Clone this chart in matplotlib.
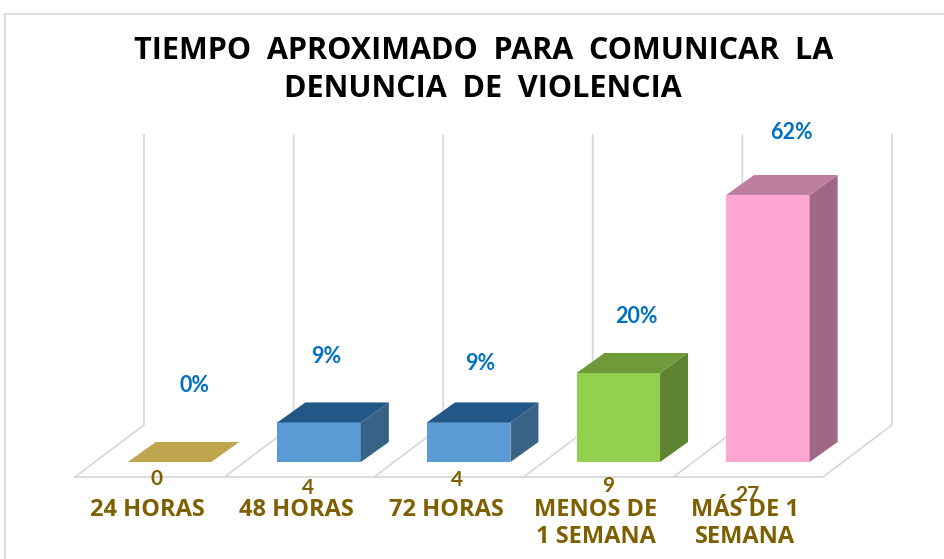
"""Faux-3D column chart: tiempo para comunicar la denuncia."""

import matplotlib

matplotlib.use("Agg")
import matplotlib.pyplot as plt
from matplotlib.patches import Polygon

plt.rcParams["font.family"] = ["Open Sans", "DejaVu Sans"]

TITLE = "TIEMPO  APROXIMADO  PARA  COMUNICAR  LA\nDENUNCIA  DE  VIOLENCIA"
CATEGORIES = ["24 HORAS", "48 HORAS", "72 HORAS", "MENOS DE\n1 SEMANA", "MÁS DE 1\nSEMANA"]
COUNTS = [0, 4, 4, 9, 27]
PERCENTS = ["0%", "9%", "9%", "20%", "62%"]

FRONT_COLORS = ["#BFA54E", "#5B9BD5", "#5B9BD5", "#92D050", "#FFA6D2"]
TOP_COLORS = ["#BFA54E", "#215888", "#215888", "#6E9A3A", "#BE7EA0"]
SIDE_COLORS = ["#BFA54E", "#386286", "#386286", "#5F8431", "#A16886"]

GOLD = "#7F6000"
BLUE = "#0070C0"
GRID = "#D9D9D9"

# pixel geometry of the picture, turned into data units below
W, H = 945, 559
PX_X = 149.6  # px per category
PX_Y = 9.89  # px per count
X0_PX, Y0_PX = 169.5, 462
BAR_W = 83.5 / PX_X
DEPTH_X = 28 / PX_X
DEPTH_Y = 20 / PX_Y
FLOOR_DROP = 15 / PX_Y
WALL_DX = 69 / PX_X
WALL_DY = 52 / PX_Y
WALL_TOP = (Y0_PX - 135) / PX_Y

# data label offsets per column, in counts (the original has them hand-placed)
COUNT_LABEL_Y = [-1.75, -2.65, -1.85, -2.4, -3.35]
COUNT_LABEL_DX = [-0.085, -0.075, -0.08, -0.065, -0.14]
PCT_LABEL_Y = [7.75, 10.7, 9.95, 14.7, 33.35]
PCT_LABEL_DX = [0.164, 0.047, 0.08, 0.118, 0.155]


def main() -> None:
    fig = plt.figure(figsize=(W / 100, H / 100), dpi=100)
    ax = fig.add_axes([0, 0, 1, 1])
    ax.set_xlim(-X0_PX / PX_X, (W - X0_PX) / PX_X)
    ax.set_ylim(-(H - Y0_PX) / PX_Y, Y0_PX / PX_Y)
    ax.axis("off")

    # outer frame of the chart area
    frame = ax.transAxes
    ax.plot([5.5 / W, 5.5 / W, 1], [0, 1 - 14 / H, 1 - 14 / H], color=GRID, lw=1.3, transform=frame)

    # floor and back wall
    floor_y = -FLOOR_DROP
    back_y = floor_y + WALL_DY
    edges = [i - 0.632 for i in range(len(COUNTS) + 1)]
    ax.plot([edges[0], edges[-1]], [floor_y, floor_y], color=GRID, lw=1.3, zorder=1)
    for x in edges:
        ax.plot([x, x + WALL_DX, x + WALL_DX], [floor_y, back_y, WALL_TOP], color=GRID, lw=1.3, zorder=1)

    for i, value in enumerate(COUNTS):
        left, right = i - BAR_W / 2, i + BAR_W / 2
        if value > 0:
            ax.bar(i, value, width=BAR_W, color=FRONT_COLORS[i], zorder=3)
            ax.add_patch(Polygon(
                [(right, 0), (right + DEPTH_X, DEPTH_Y), (right + DEPTH_X, value + DEPTH_Y), (right, value)],
                closed=True, facecolor=SIDE_COLORS[i], edgecolor="none", zorder=3,
            ))
        ax.add_patch(Polygon(
            [(left, value), (right, value), (right + DEPTH_X, value + DEPTH_Y), (left + DEPTH_X, value + DEPTH_Y)],
            closed=True, facecolor=TOP_COLORS[i], edgecolor="none", zorder=3,
        ))

        ax.text(i + PCT_LABEL_DX[i], PCT_LABEL_Y[i], PERCENTS[i], color=BLUE, fontsize=15.5,
                fontfamily=["Lato", "DejaVu Sans"], fontweight="bold", ha="center", va="center", zorder=4)
        ax.text(i + COUNT_LABEL_DX[i], COUNT_LABEL_Y[i], str(value), color=GOLD, fontsize=15,
                fontfamily=["Lato", "DejaVu Sans"], fontweight="bold", ha="center", va="center", zorder=4)
        ax.text(i - 0.15, -3.6, CATEGORIES[i], color=GOLD, fontsize=17, fontweight="bold",
                ha="center", va="top", linespacing=1.2, zorder=5)

    ax.text(0.5115, 1 - 70 / H, TITLE, transform=frame, color="black", fontsize=22, fontweight="bold",
            ha="center", va="center", linespacing=1.33)

    fig.savefig("out.png", dpi=100)
    plt.close(fig)


if __name__ == "__main__":
    main()
